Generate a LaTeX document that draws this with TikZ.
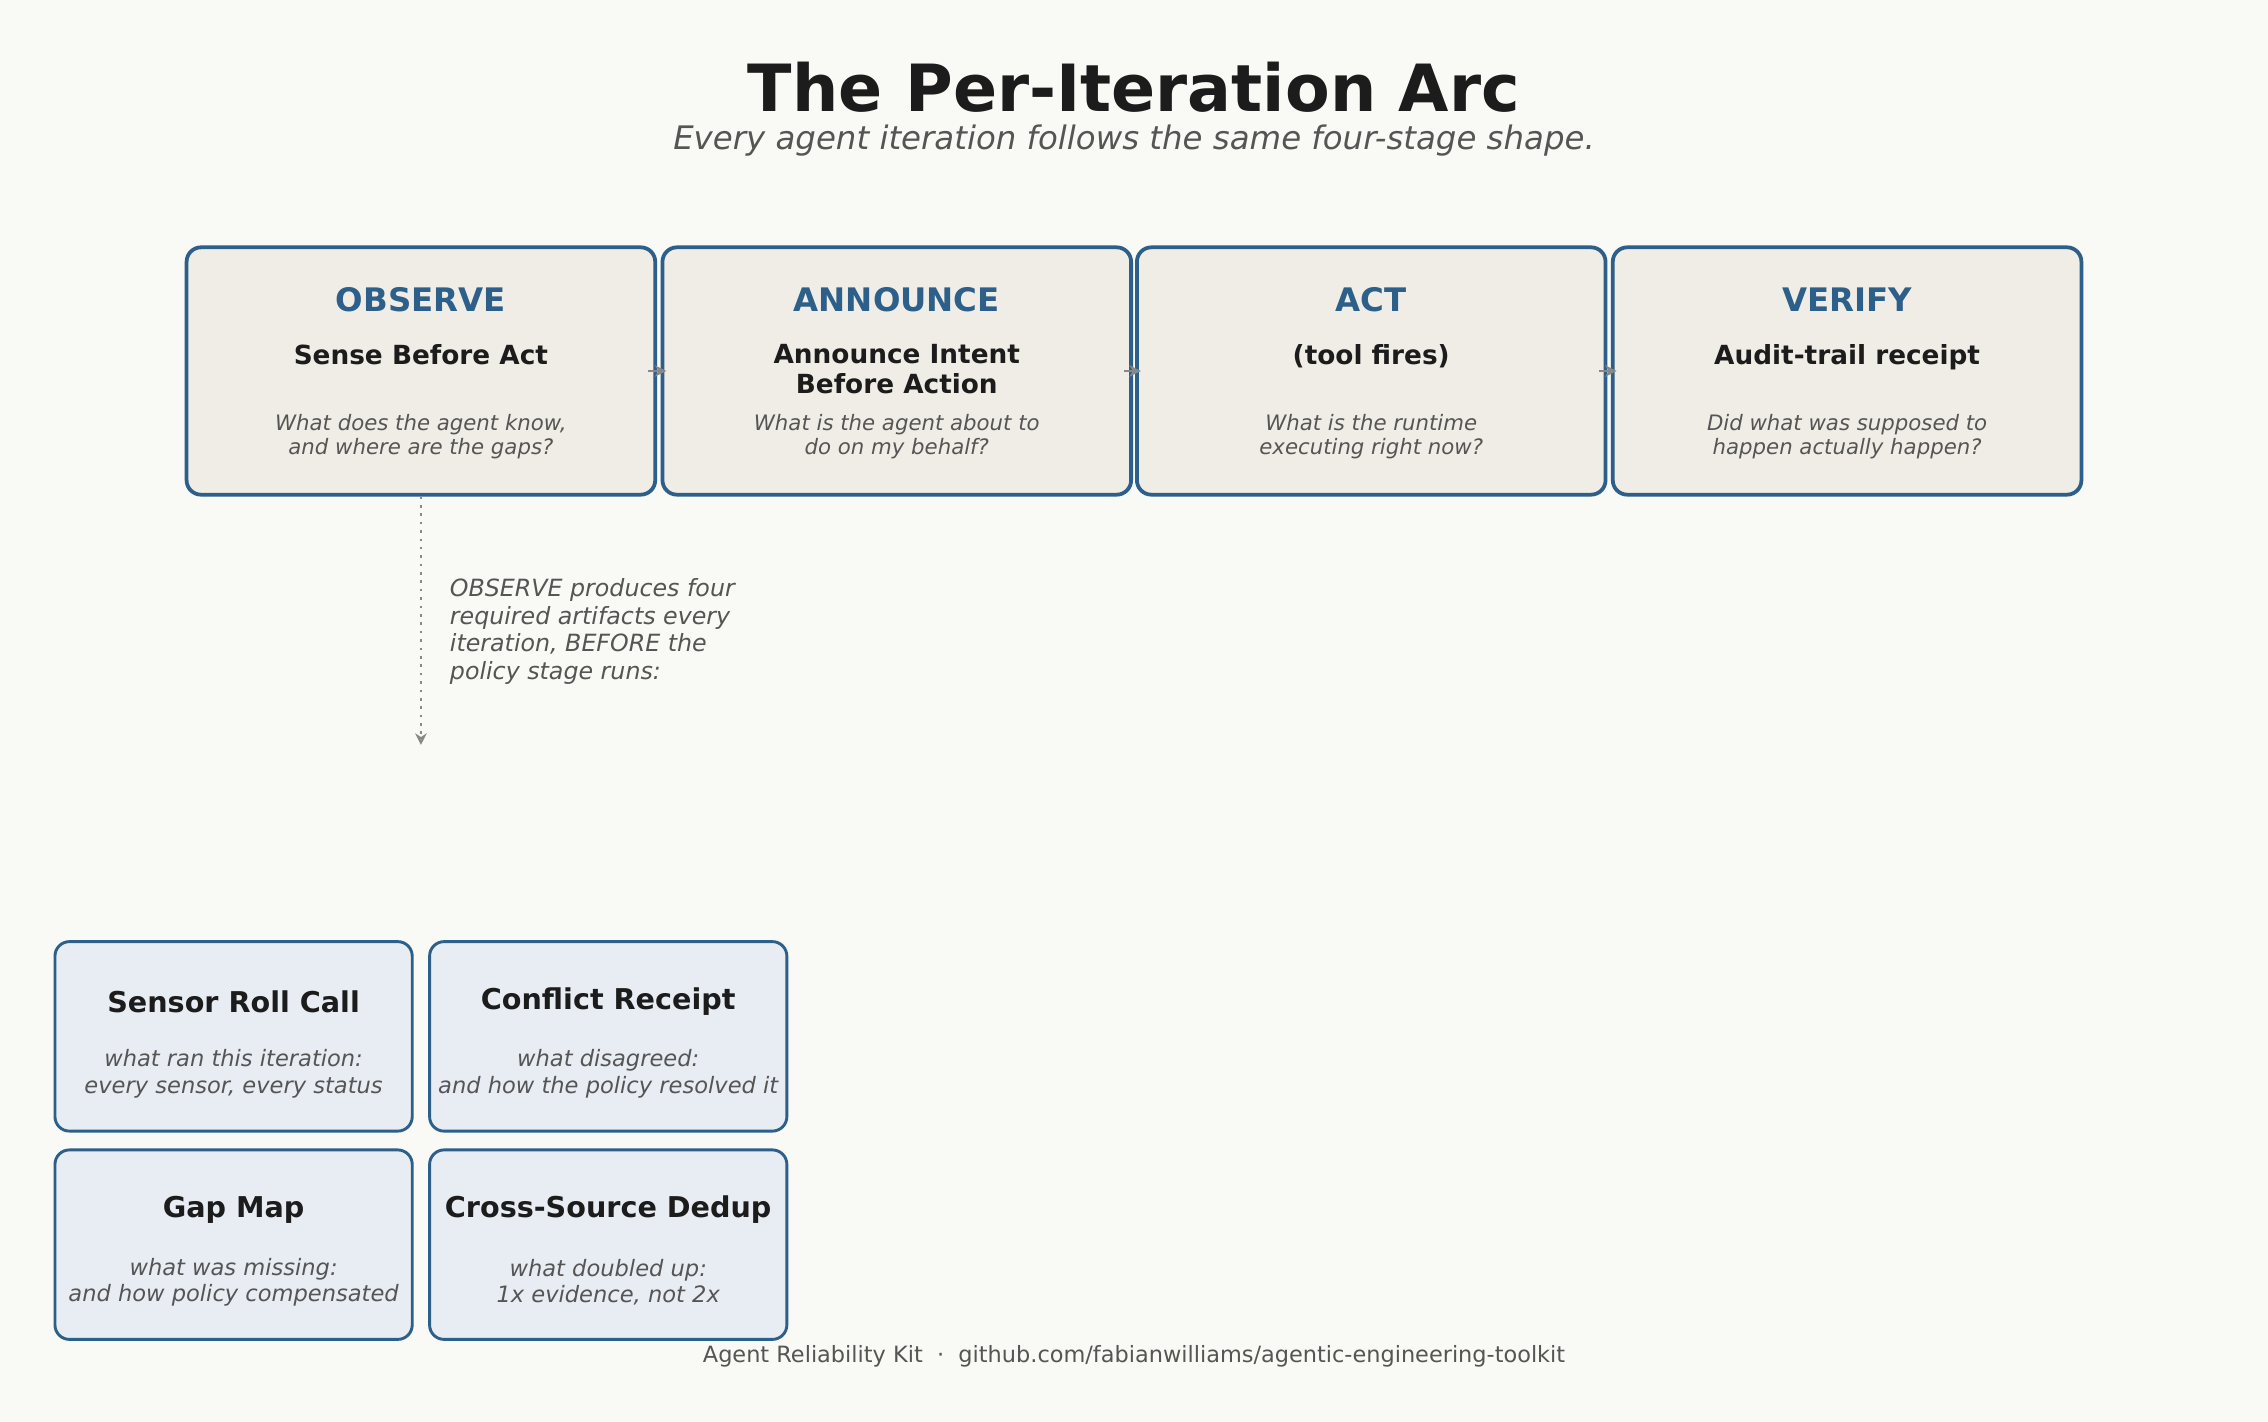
\documentclass[tikz,border=0pt]{standalone}
\usepackage{fontspec}
\setmainfont{DejaVu Sans}
\usetikzlibrary{arrows.meta}
\definecolor{bg}{HTML}{F9F9F5}
\definecolor{blu}{HTML}{2C5F8A}
\definecolor{boxa}{HTML}{F0EDE6}
\definecolor{boxb}{HTML}{E8EDF4}
\definecolor{ink}{HTML}{1C1C1C}
\definecolor{gry}{HTML}{555555}
\definecolor{arr}{HTML}{888888}
\tikzset{
 stage/.style={draw=blu,line width=1.3pt,fill=boxa,rounded corners=5pt,minimum width=162pt,minimum height=85.5pt,inner sep=0pt},
 art/.style={draw=blu,line width=1pt,fill=boxb,rounded corners=5pt,minimum width=123.5pt,minimum height=65.5pt,inner sep=0pt},
 head/.style={text=blu,font=\fontsize{11.2}{13}\selectfont\bfseries},
 sub/.style={text=ink,font=\fontsize{9.1}{10.5}\selectfont\bfseries,align=center},
 q/.style={text=gry,font=\fontsize{7.35}{8.2}\selectfont\itshape,align=center},
 arttitle/.style={text=ink,font=\fontsize{9.9}{11}\selectfont\bfseries},
 aq/.style={text=gry,font=\fontsize{7.8}{9.3}\selectfont\itshape,align=center},
 flow/.style={draw=arr,line width=1pt,-{Stealth[length=4pt,width=4pt]}},
}
\begin{document}
\begin{tikzpicture}[x=0.5pt,y=-0.5pt]
\path[use as bounding box,fill=bg] (0,0) rectangle (1568,983);
\node[text=ink,font=\fontsize{22.5}{26}\selectfont\bfseries] (title) at (784,60) {The Per-Iteration Arc};
\node[text=gry,font=\fontsize{11.2}{13}\selectfont\itshape] (subtitle) at (784,97) {Every agent iteration follows the same four-stage shape.};
\foreach \n/\x/\h/\s/\q in {
 s1/291/OBSERVE/{Sense Before Act}/{What does the agent know,\\and where are the gaps?},
 s2/620/ANNOUNCE/{Announce Intent\\Before Action}/{What is the agent about to\\do on my behalf?},
 s3/948/ACT/{(tool fires)}/{What is the runtime\\executing right now?},
 s4/1277/VERIFY/{Audit-trail receipt}/{Did what was supposed to\\happen actually happen?}}{
 \node[stage] (\n) at (\x,256.5) {};
 \node[head] (\n h) at (\x,207) {\h};
 \node[sub,anchor=north] (\n s) at (\x,231) {\s};
 \node[q] (\n q) at (\x,302) {\q};
}
\foreach \a/\b in {s1/s2,s2/s3,s3/s4}{\draw[flow] ([xshift=-3pt]\a.east) -- ([xshift=2pt]\b.west);}
\coordinate (dend) at (291,515);
\draw[arr,line width=0.9pt,dotted,-{Stealth[length=4pt,width=4pt,open]}] (s1.south) -- (dend);
\node[text=gry,font=\fontsize{8.2}{9.5}\selectfont\itshape,align=left,anchor=north west] (note) at (304,393) {OBSERVE produces four\\required artifacts every\\iteration, BEFORE the\\policy stage runs:};
\foreach \n/\x/\y/\t/\q in {
 a1/161.5/716.5/{Sensor Roll Call}/{what ran this iteration:\\every sensor, every status},
 a2/420.5/716.5/{Conflict Receipt}/{what disagreed:\\and how the policy resolved it},
 a3/161.5/860.5/{Gap Map}/{what was missing:\\and how policy compensated},
 a4/420.5/860.5/{Cross-Source Dedup}/{what doubled up:\\1x evidence, not 2x}}{
 \node[art] (\n) at (\x,\y) {};
 \node[arttitle] (\n t) at (\x,\y-24) {\t};
 \node[aq] (\n q) at (\x,\y+26) {\q};
}
\node[text=gry,font=\fontsize{7.75}{9}\selectfont] (foot) at (784,938) {Agent Reliability Kit\ \ ·\ \ github.com/fabianwilliams/agentic-engineering-toolkit};
\end{tikzpicture}
\end{document}
